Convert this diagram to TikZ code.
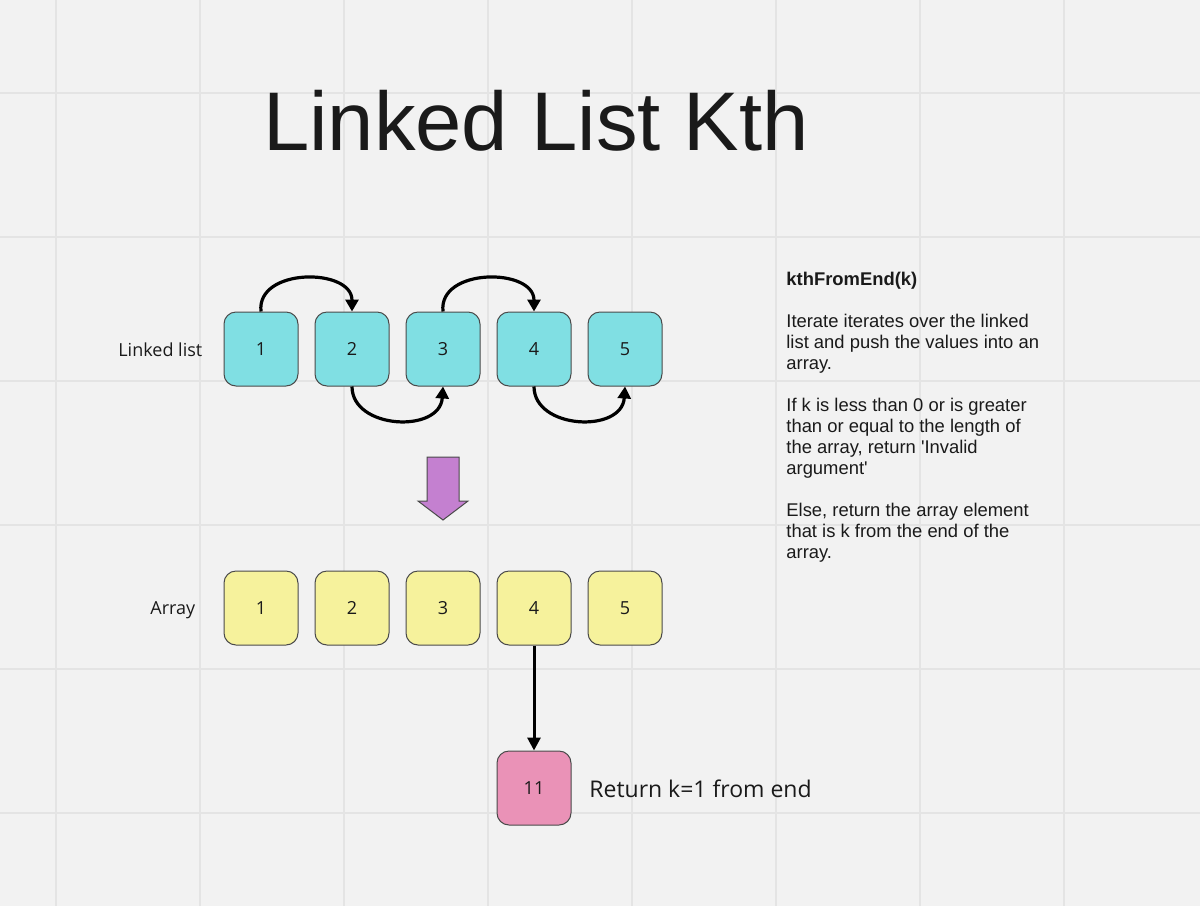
\documentclass[tikz,border=0pt]{standalone}
\usepackage{fontspec}
\setmainfont{Liberation Sans}
\newfontfamily\osans{Open Sans}
\usetikzlibrary{arrows.meta}
\definecolor{bg}{HTML}{F2F2F2}
\definecolor{gridc}{HTML}{E4E4E4}
\definecolor{cyanbox}{HTML}{80DFE3}
\definecolor{yellowbox}{HTML}{F6F29C}
\definecolor{pinkbox}{HTML}{EA92B7}
\definecolor{purplearrow}{HTML}{C480D0}
\definecolor{boxline}{HTML}{4A4A4A}
\definecolor{txt}{HTML}{1A1A1A}
\begin{document}
\begin{tikzpicture}[x=0.5pt,y=-0.5pt,
  gridline/.style={draw=gridc, line width=1pt},
  box/.style={draw=boxline, line width=0.5pt, rounded corners=6pt,
    minimum width=37pt, minimum height=37pt, inner sep=0pt,
    font=\osans\fontsize{9}{11}\selectfont, text=txt},
  lbl/.style={font=\osans\fontsize{9}{11}\selectfont, text=txt, inner sep=0pt},
  link/.style={draw=black, line width=1.6pt, -{Triangle[width=6.5pt,length=6pt]}},
  straight/.style={draw=black, line width=1.5pt, -{Triangle[width=6.5pt,length=6.5pt]}},
  bigarrow/.style={fill=purplearrow, draw=boxline, line width=0.5pt, line join=miter}
]
\fill[bg] (0,0) rectangle (1200,906);
\useasboundingbox (0,0) rectangle (1200,906);
\foreach \x in {56,200,...,1064} \draw[gridline] (\x,0) -- (\x,906);
\foreach \y in {93,237,...,813} \draw[gridline] (0,\y) -- (1200,\y);

% title
\node[anchor=base, inner sep=0pt, text=txt, font=\fontsize{41.6}{50}\selectfont] (title) at (536,150) {Linked List Kth};

% linked list
\node[lbl, anchor=base west] (lbllist) at (118,356) {Linked list};
\node[box, fill=cyanbox] (l1) at (261,349) {1};
\node[box, fill=cyanbox] (l2) at (352,349) {2};
\node[box, fill=cyanbox] (l3) at (443,349) {3};
\node[box, fill=cyanbox] (l4) at (534,349) {4};
\node[box, fill=cyanbox] (l5) at (625,349) {5};

\draw[link] (l1.north) .. controls +(-5,-44) and +(0,-44) .. (l2.north);
\draw[link] (l2.south) .. controls +(0,43) and +(-3,47) .. (l3.south);
\draw[link] (l3.north) .. controls +(-5,-44) and +(0,-44) .. (l4.north);
\draw[link] (l4.south) .. controls +(0,43) and +(-3,47) .. (l5.south);

% purple arrow
\draw[bigarrow] (427,457) -- (459,457) -- (459,501) -- (468,501) -- (443,520) -- (418,501) -- (427,501) -- cycle;

% array
\node[lbl, anchor=base west] (lblarray) at (150,614.5) {Array};
\node[box, fill=yellowbox] (a1) at (261,608) {1};
\node[box, fill=yellowbox] (a2) at (352,608) {2};
\node[box, fill=yellowbox] (a3) at (443,608) {3};
\node[box, fill=yellowbox] (a4) at (534,608) {4};
\node[box, fill=yellowbox] (a5) at (625,608) {5};

% result
\node[box, fill=pinkbox] (res) at (534,788) {11};
\draw[straight] (a4.south) -- (res.north);
\node[lbl, anchor=base west, font=\osans\fontsize{11.5}{13}\selectfont] (reslbl) at (589,797) {Return k=1 from end};

% description
\node[anchor=north west, inner sep=0pt, align=left, text=txt,
  font=\fontsize{9.2}{10.5}\selectfont] (desc) at (786,272) {%
\textbf{kthFromEnd(k)}\\[10.5pt]
Iterate iterates over the linked\\
list and push the values into an\\
array.\\[10.5pt]
If k is less than 0 or is greater\\
than or equal to the length of\\
the array, return \textquotesingle Invalid\\
argument\textquotesingle\\[10.5pt]
Else, return the array element\\
that is k from the end of the\\
array.};
\end{tikzpicture}
\end{document}
